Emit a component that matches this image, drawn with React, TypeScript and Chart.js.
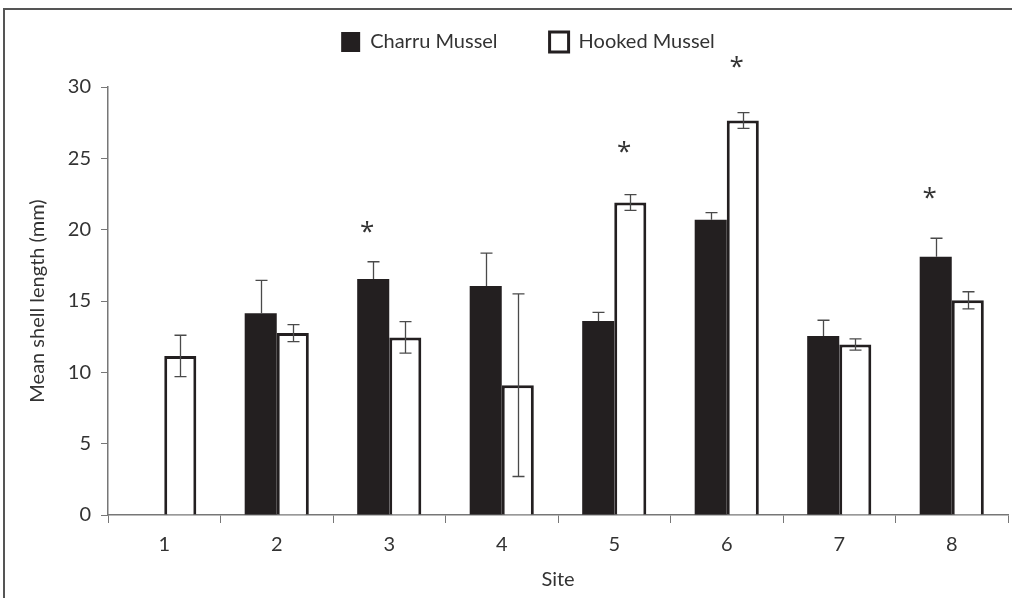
import React, { useEffect, useRef } from "react";
import { Chart, registerables } from "chart.js";

Chart.register(...registerables);

const sites = ["1", "2", "3", "4", "5", "6", "7", "8"];
const charruMean = [null, 14.15, 16.55, 16.05, 13.6, 20.7, 12.55, 18.1];
const charruErr = [0, 2.3, 1.2, 2.3, 0.6, 0.5, 1.1, 1.3];
const hookedMean = [11.15, 12.75, 12.45, 9.1, 21.9, 27.65, 11.95, 15.05];
const hookedErr = [1.45, 0.6, 1.1, 6.4, 0.55, 0.55, 0.4, 0.6];
// significance markers: site index, series index (0 = Charru, 1 = Hooked), value height
const starSite = [2, 4, 5, 7];
const starSeries = [0, 1, 1, 0];
const starValue = [20.2, 25.8, 31.75, 22.6];
const yTicks = [0, 5, 10, 15, 20, 25, 30];

const FONT = "Lato, 'Open Sans', sans-serif";
const INK = "#231f20";
const TEXT = "#333333";

export default function App() {
  const ref = useRef<HTMLCanvasElement | null>(null);
  useEffect(() => {
    document.body.style.margin = "0";
    const errs = [charruErr, hookedErr];
    const layoutPlugin = {
      id: "legendPlace",
      afterInit(chart: any) {
        const lg = chart.legend;
        if (!lg) return;
        const orig = lg.fit.bind(lg);
        lg.fit = function () {
          orig();
          this.height = 87;
        };
      },
      afterLayout(chart: any) {
        const lg = chart.legend;
        if (!lg) return;
        const h = lg.bottom - lg.top;
        lg.top = -20;
        lg.bottom = lg.top + h;
        lg.left += 14;
        lg.right += 14;
      },
    };
    const errorPlugin = {
      id: "errs",
      beforeDraw(chart: any) {
        const c = chart.ctx;
        c.save();
        c.strokeStyle = "#555";
        c.lineWidth = 2;
        c.beginPath();
        c.moveTo(4, 598);
        c.lineTo(4, 9);
        c.lineTo(1012, 9);
        c.stroke();
        c.restore();
      },
      afterDatasetsDraw(chart: any) {
        const c = chart.ctx;
        const y = chart.scales.y;
        c.save();
        c.strokeStyle = "#4a4a4a";
        c.lineWidth = 1.3;
        for (let d = 0; d < 2; d++) {
          const meta = chart.getDatasetMeta(d);
          const data = chart.data.datasets[d].data;
          meta.data.forEach((bar: any, i: number) => {
            const v = data[i];
            if (v == null) return;
            const e = errs[d][i];
            if (!e) return;
            const x = Math.round(bar.x) + 0.5;
            const top = y.getPixelForValue(v + e);
            const mid = y.getPixelForValue(v);
            const bot = y.getPixelForValue(v - e);
            c.beginPath();
            c.moveTo(x, top);
            c.lineTo(x, mid);
            c.moveTo(x - 6, top);
            c.lineTo(x + 6, top);
            if (d === 1) {
              c.moveTo(x, mid);
              c.lineTo(x, bot);
              c.moveTo(x - 6, bot);
              c.lineTo(x + 6, bot);
            }
            c.stroke();
          });
        }
        c.fillStyle = TEXT;
        c.font = `26px 'Open Sans', sans-serif`;
        c.textAlign = "center";
        c.textBaseline = "alphabetic";
        const m = c.measureText("*");
        const asc = m.actualBoundingBoxAscent || 20;
        const desc = m.actualBoundingBoxDescent || -8;
        const centerOff = (asc - desc) / 2;
        for (let k = 0; k < starSite.length; k++) {
          const bar: any = chart.getDatasetMeta(starSeries[k]).data[starSite[k]];
          c.fillText("*", bar.x - 6, y.getPixelForValue(starValue[k]) + centerOff);
        }
        c.restore();
      },
    };

    const chart = new Chart(ref.current as HTMLCanvasElement, {
      type: "bar",
      data: {
        labels: sites,
        datasets: [
          {
            label: "Charru Mussel",
            data: charruMean as any,
            backgroundColor: INK,
            borderColor: INK,
            borderWidth: 0,
            categoryPercentage: 0.57,
            barPercentage: 1,
          },
          {
            label: "Hooked Mussel",
            data: hookedMean,
            backgroundColor: "#ffffff",
            borderColor: INK,
            borderWidth: 3,
            categoryPercentage: 0.57,
            barPercentage: 1,
          },
        ],
      },
      options: {
        responsive: false,
        animation: false,
        layout: { padding: { left: 20, right: 4, top: 0, bottom: 0 } },
        plugins: {
          tooltip: { enabled: false },
          legend: {
            position: "top",
            labels: {
              color: TEXT,
              font: { family: FONT, size: 20 },
              boxWidth: 19,
              boxHeight: 20,
              padding: 52,
              generateLabels: () => [
                { text: "Charru Mussel", fillStyle: INK, strokeStyle: INK, lineWidth: 0, datasetIndex: 0, fontColor: TEXT } as any,
                { text: "Hooked Mussel", fillStyle: "#ffffff", strokeStyle: INK, lineWidth: 3, datasetIndex: 1, fontColor: TEXT } as any,
              ],
            },
          },
        },
        scales: {
          x: {
            afterFit: (s: any) => { s.height = 83; },
            grid: { drawOnChartArea: false, drawTicks: true, tickLength: 8, color: "#777", offset: true },
            border: { color: "#777", width: 1.5 },
            ticks: { color: TEXT, font: { family: FONT, size: 20 }, padding: 10 },
            title: { display: true, text: "Site", color: TEXT, font: { family: FONT, size: 20 }, padding: { top: 0, bottom: 6 } },
          },
          y: {
            min: 0,
            max: 30,
            afterFit: (s: any) => { s.width = 88; },
            afterBuildTicks: (s: any) => { s.ticks = yTicks.map((v) => ({ value: v })); },
            grid: { drawOnChartArea: false, drawTicks: true, tickLength: 7, color: "#777" },
            border: { color: "#777", width: 1.5 },
            ticks: { color: TEXT, font: { family: FONT, size: 20 }, padding: 10 },
            title: { display: true, text: "Mean shell length (mm)", color: TEXT, font: { family: FONT, size: 20 }, padding: { top: 6, bottom: 0 } },
          },
        },
      },
      plugins: [layoutPlugin, errorPlugin],
    });
    return () => chart.destroy();
  }, []);
  return (
    <div style={{ position: "absolute", left: 0, top: 0, width: 1012, height: 598, background: "#fff" }}>
      <canvas ref={ref} width={1012} height={598} />
    </div>
  );
}
